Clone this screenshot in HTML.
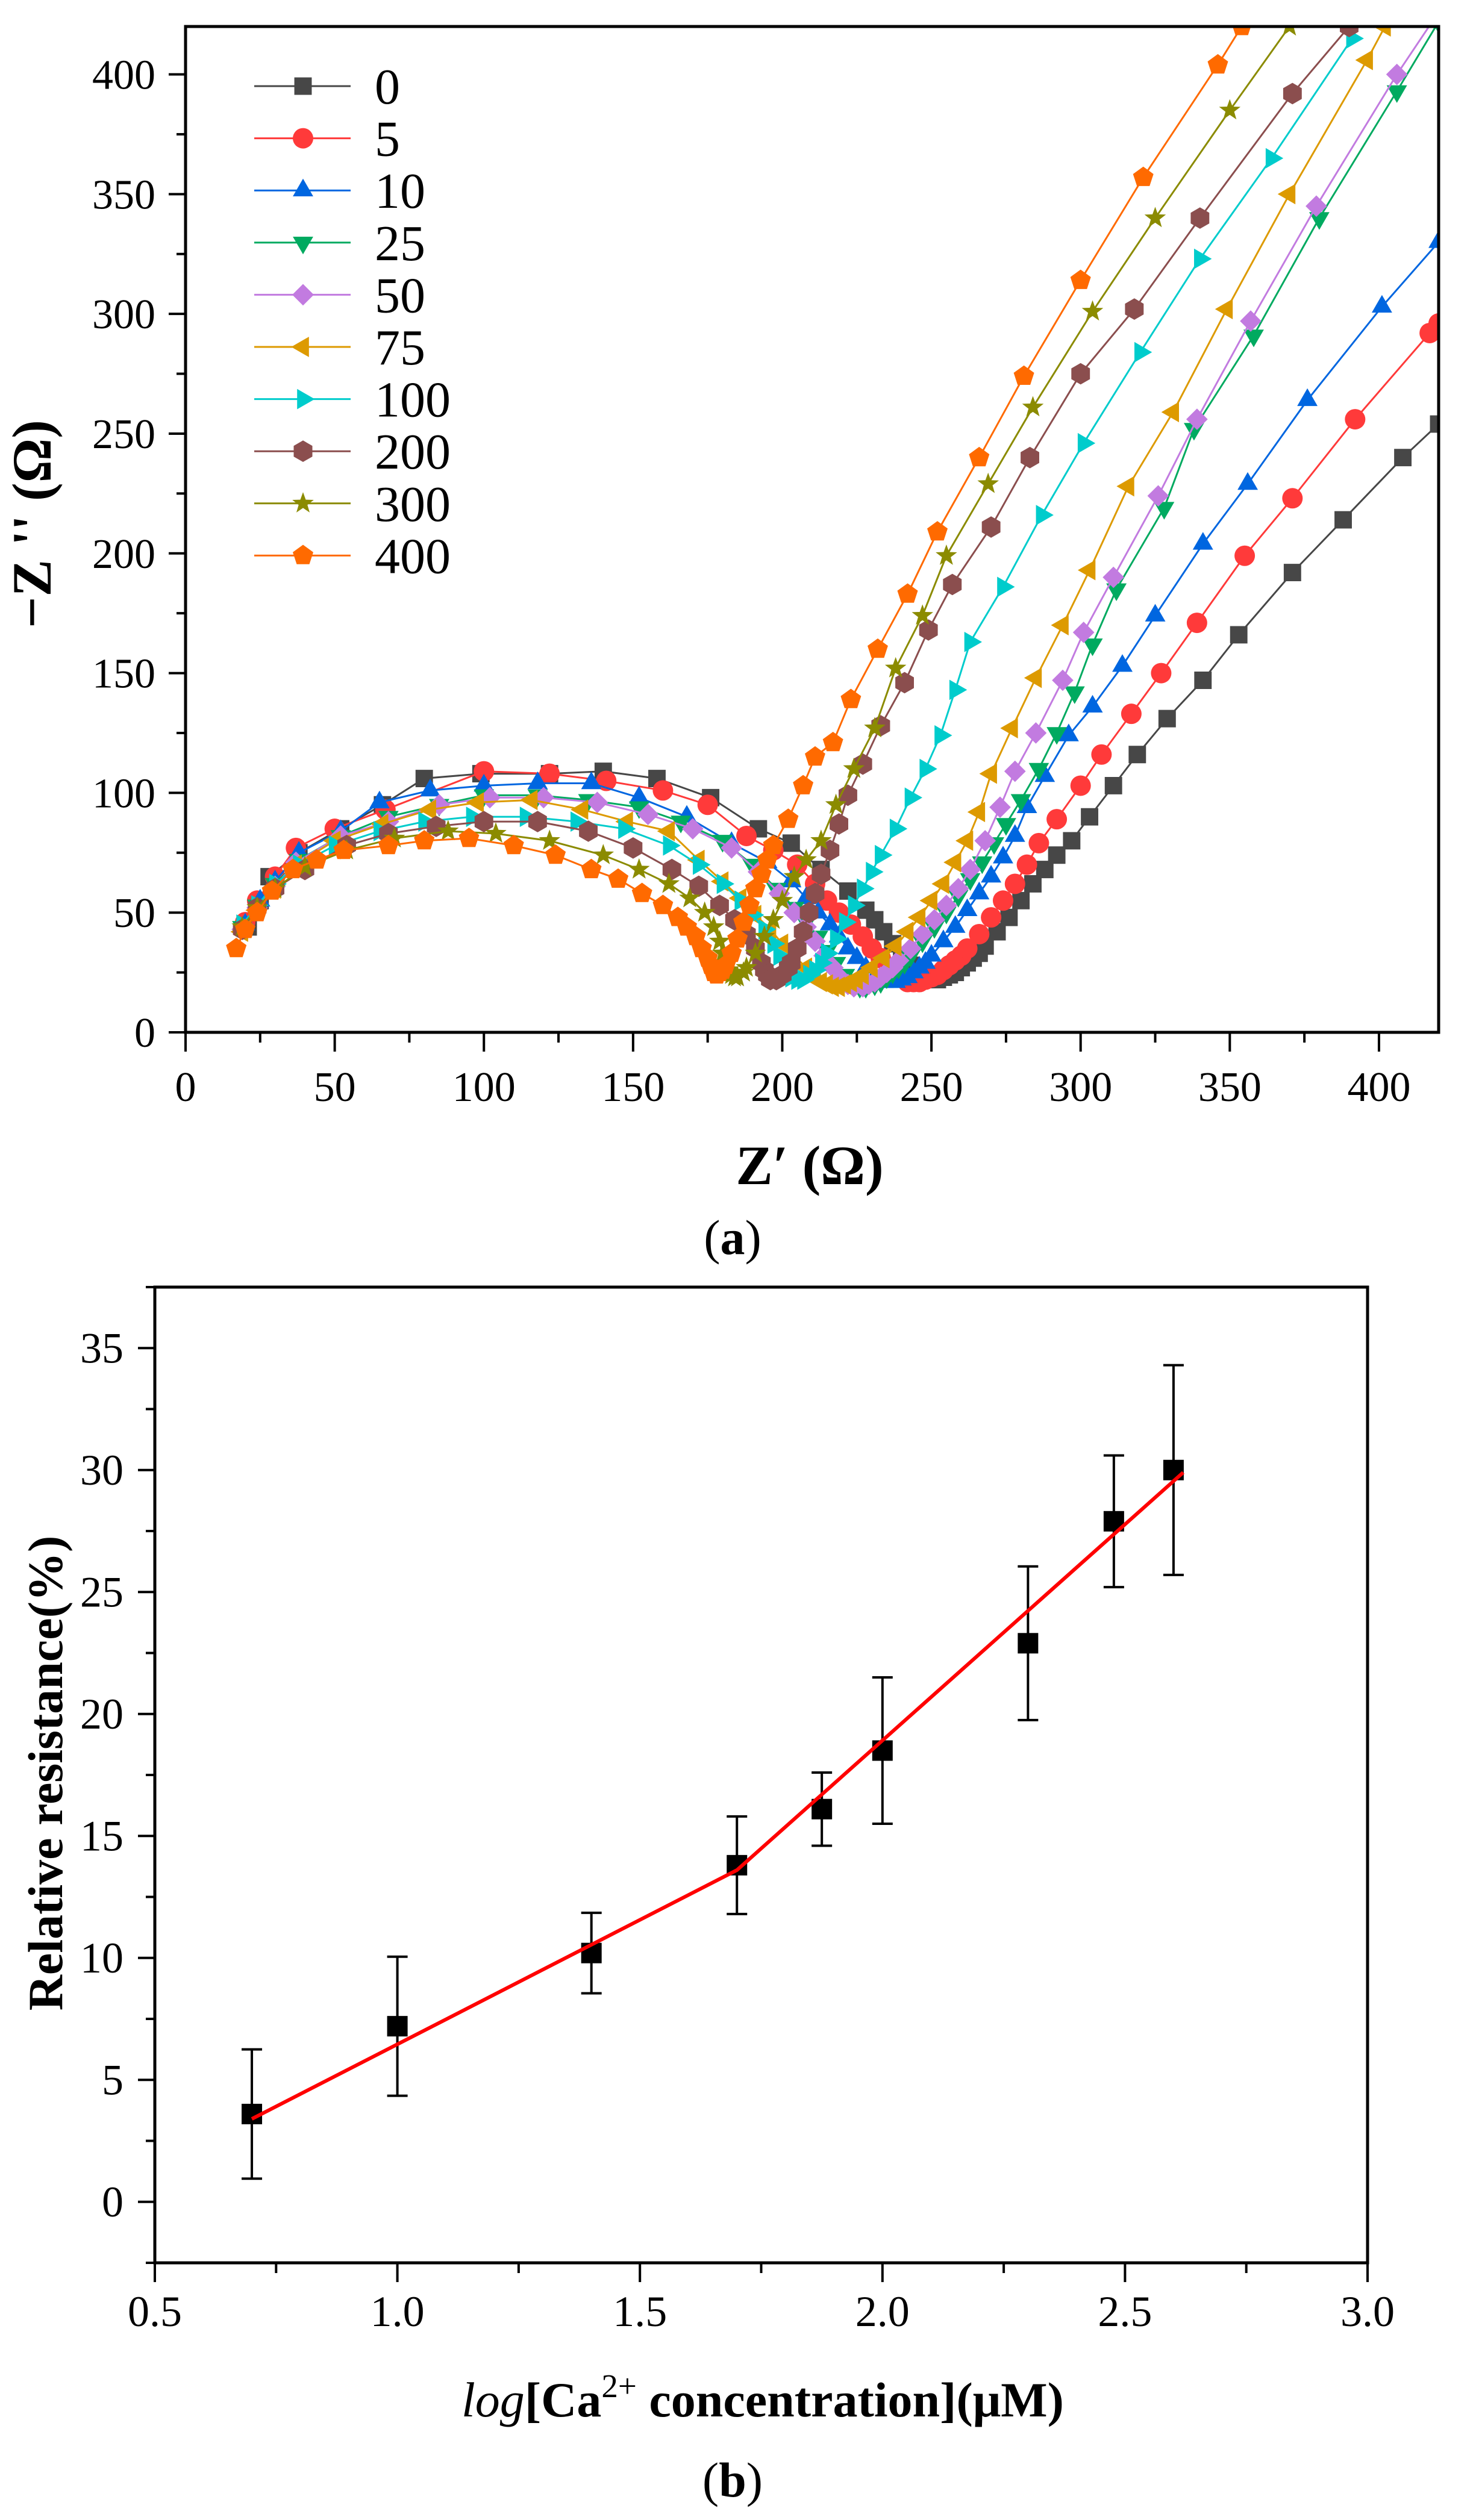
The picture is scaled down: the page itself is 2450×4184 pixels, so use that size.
<!DOCTYPE html>
<html><head><meta charset="utf-8"><style>
html,body{margin:0;padding:0;background:#fff}
svg{display:block}
text{font-family:"Liberation Serif",serif;fill:#000}
</style></head><body>
<svg id="fig" width="2450" height="4184" viewBox="0 0 2450 4184" xmlns="http://www.w3.org/2000/svg" font-family="Liberation Serif, serif">
<g id="chartA"></g>
<g id="chartB"></g>
<text x="1216" y="2082" text-anchor="middle" font-size="82" font-family="Liberation Serif, serif">(<tspan font-weight="bold">a</tspan>)</text>
<text x="1216" y="4145" text-anchor="middle" font-size="82" font-family="Liberation Serif, serif">(<tspan font-weight="bold">b</tspan>)</text>
</svg>
<script>
// ---------- Chart A data ----------
const seriesNames = ["0","5","10","25","50","75","100","200","300","400"];
const seriesColors = ["#474747","#ff3a3a","#0066e0","#00aa60","#c27be0","#dd9a00","#00cccc","#8b4e4e","#8b8b00","#ff6a00"];
const seriesMarkers = ["square","circle","tri-up","tri-down","diamond","tri-left","tri-right","hexagon","star","pentagon"];
const s0 = [[21,44],[25,55],[28,65],[38,75],[52,85],[66,95],[80,106],[99,108],[122,108],[140,109],[158,106],[176,98],[192,85],[203,79],[213,68],[222,59],[228,51],[231,47],[234,42],[237,37],[240,32],[243,28],[245,25],[248,22],[250,22],[252,22],[254,23],[256,24],[258,25],[260,27],[262,29],[264,31],[266,33],[268,36],[272,42],[276,48],[280,55],[284,62],[288,68],[292,74],[297,80],[303,90],[311,103],[319,116],[329,131],[341,147],[353,166],[371,192],[388,214],[408,240],[420,254]];
const s5 = [[20,46],[24,55],[30,65],[37,77],[50,85],[67,93],[100,109],[122,108],[141,105],[160,101],[175,95],[188,82],[197,76],[205,70],[211,62],[215,55],[219,50],[223,45],[227,40],[230,35],[233,31],[236,27],[239,23],[242,21],[244,21],[246,21],[248,22],[250,23],[252,24],[254,26],[256,28],[258,30],[260,32],[262,35],[266,41],[270,48],[274,55],[278,62],[282,70],[286,79],[292,89],[300,103],[307,116],[317,133],[327,150],[339,171],[355,199],[371,223],[392,256],[417,292],[420,296]];
const s10 = [[20,45],[25,55],[30,63],[38,75],[52,84],[65,96],[82,101],[100,103],[118,104],[136,104],[152,98],[168,90],[183,79],[195,71],[203,63],[208,56],[212,50],[216,45],[219,40],[222,35],[225,31],[228,27],[231,23],[234,21],[236,21],[238,21],[240,22],[242,23],[244,25],[246,27],[248,29],[250,32],[254,38],[258,44],[262,51],[266,58],[270,65],[274,73],[278,82],[282,94],[288,107],[296,124],[304,136],[314,153],[325,174],[341,204],[356,229],[376,264],[401,303],[420,330]];
const s25 = [[19,44],[24,53],[30,62],[38,72],[52,82],[68,90],[85,95],[100,99],[118,99],[135,97],[152,94],[166,88],[180,80],[190,70],[198,60],[204,52],[208,46],[212,40],[215,34],[218,29],[221,24],[224,20],[226,19],[228,19],[231,20],[233,21],[235,23],[237,25],[239,27],[241,29],[243,32],[247,38],[251,44],[255,50],[259,57],[263,64],[267,71],[271,79],[275,87],[280,97],[286,110],[292,125],[298,142],[304,162],[312,185],[328,219],[338,252],[358,291],[380,340],[406,393],[420,422]];
const s50 = [[19,43],[24,52],[30,61],[37,71],[52,82],[68,88],[85,95],[102,98],[120,98],[138,96],[155,91],[170,85],[183,77],[192,67],[199,58],[204,50],[208,44],[211,38],[214,32],[217,27],[220,22],[222,20],[224,19],[227,19],[229,20],[231,21],[233,23],[235,25],[237,27],[239,30],[243,35],[247,41],[251,47],[255,53],[259,60],[263,68],[268,80],[273,94],[278,109],[285,125],[294,147],[301,167],[311,190],[326,224],[339,256],[357,297],[379,345],[406,400],[420,426]];
const s75 = [[19,42],[24,51],[30,60],[37,70],[50,80],[66,87],[82,93],[98,96],[116,97],[133,93],[148,88],[162,84],[172,72],[180,63],[186,56],[191,49],[196,43],[200,37],[204,32],[208,27],[211,23],[213,21],[215,20],[217,19],[219,19],[221,20],[223,21],[225,22],[227,24],[230,27],[234,31],[238,36],[242,42],[246,48],[250,55],[254,62],[258,71],[262,80],[266,92],[270,108],[277,127],[285,148],[294,170],[303,193],[316,228],[331,259],[349,302],[370,350],[396,406],[402,420]];
const s100 = [[19,45],[24,53],[30,62],[38,70],[50,78],[65,84],[80,88],[96,90],[114,90],[131,88],[147,85],[162,78],[172,70],[180,62],[186,55],[190,49],[194,43],[197,37],[199,32],[201,27],[202,25],[203,23],[205,22],[207,22],[209,24],[211,26],[213,29],[215,33],[218,39],[221,46],[224,53],[227,60],[230,67],[233,74],[238,85],[243,98],[248,110],[253,124],[258,143],[263,163],[274,186],[287,216],[301,246],[320,284],[340,323],[364,365],[391,415]];
const s200 = [[19,43],[24,52],[30,60],[40,68],[54,78],[68,83],[84,86],[100,88],[118,88],[135,84],[150,77],[163,68],[172,61],[179,53],[184,47],[188,41],[191,35],[193,29],[194,26],[195,24],[196,22],[198,22],[200,24],[202,27],[203,29],[205,35],[207,42],[209,50],[211,58],[213,66],[216,76],[219,87],[222,99],[227,112],[233,128],[241,146],[249,168],[257,187],[270,211],[283,240],[300,275],[318,302],[340,340],[371,392],[390,420]];
const s300 = [[19,44],[24,52],[30,60],[40,69],[54,76],[70,81],[88,84],[104,83],[122,80],[140,74],[152,68],[162,62],[169,56],[174,50],[177,44],[179,38],[180,33],[181,28],[182,26],[183,24],[184,23],[185,23],[187,25],[188,27],[191,33],[194,40],[197,47],[200,55],[204,65],[208,72],[213,80],[218,95],[224,110],[231,127],[238,152],[247,174],[255,199],[269,229],[284,261],[304,301],[325,340],[350,385],[370,420]];
const s400 = [[17,35],[20,43],[24,50],[29,59],[36,68],[44,72],[53,76],[68,78],[80,80],[95,81],[110,78],[124,74],[136,68],[145,64],[153,58],[160,53],[165,48],[168,44],[171,40],[173,35],[175,31],[176,28],[177,25],[178,24],[179,25],[180,26],[181,28],[183,33],[185,39],[187,46],[189,53],[191,60],[193,66],[195,72],[197,78],[202,89],[207,103],[211,115],[217,121],[223,139],[232,160],[242,183],[252,209],[266,240],[281,274],[300,314],[321,357],[346,404],[354,420]];
const seriesData = [s0,s5,s10,s25,s50,s75,s100,s200,s300,s400];
const xTicksA = [0,50,100,150,200,250,300,350,400];
const yTicksA = [0,50,100,150,200,250,300,350,400];

// ---------- Chart B data ----------
const logConc = [0.7,1.0,1.4,1.7,1.875,2.0,2.3,2.477,2.6];
const relRes = [3.6,7.2,10.2,13.8,16.1,18.5,22.9,27.9,30.0];
const relErr = [2.65,2.85,1.65,2.0,1.5,3.0,3.15,2.7,4.3];
const fitX = [0.7,1.7,2.62];
const fitY = [3.4,13.6,29.9];
const xTicksB = ["0.5","1.0","1.5","2.0","2.5","3.0"];
const yTicksB = ["0","5","10","15","20","25","30","35"];

const NS="http://www.w3.org/2000/svg";
const SERIF="Liberation Serif, serif";
function mk(tag,attrs,parent){const e=document.createElementNS(NS,tag);for(const k in attrs)e.setAttribute(k,attrs[k]);if(tag==='text')e.setAttribute('font-family',SERIF);parent.appendChild(e);return e;}

// ---------- Chart A ----------
const A=document.getElementById('chartA');
const aL=308,aR=2388,aT=44,aB=1714;
const axA=v=>aL+(v-0)*(aR-aL)/420;
const ayA=v=>aB-(v-0)*(aB-aT)/420;
const clip=mk('clipPath',{id:'clipA'},A);
mk('rect',{x:aL,y:aT,width:aR-aL,height:aB-aT},clip);

function markerPath(type,cx,cy,r){
  if(type==='square'){return `M${cx-r*0.85},${cy-r*0.85}h${r*1.7}v${r*1.7}h${-r*1.7}Z`;}
  if(type==='circle'){return `M${cx-r},${cy}a${r},${r} 0 1,0 ${2*r},0a${r},${r} 0 1,0 ${-2*r},0Z`;}
  let angs=[],rad=[];
  if(type==='tri-up'){angs=[-90,30,150];}
  if(type==='tri-down'){angs=[90,210,330];}
  if(type==='tri-left'){angs=[180,300,60];}
  if(type==='tri-right'){angs=[0,120,240];}
  if(type==='diamond'){angs=[-90,0,90,180];}
  if(type==='hexagon'){angs=[-90,-30,30,90,150,210];}
  if(type==='pentagon'){angs=[-90,-18,54,126,198];}
  if(type==='star'){for(let i=0;i<10;i++){angs.push(-90+i*36);rad.push(i%2?0.45:1.1);}}
  let d='';
  angs.forEach((a,i)=>{const rr=r*(rad.length?rad[i]:(type.startsWith('tri')?1.15:1.05));const x=cx+rr*Math.cos(a*Math.PI/180),y=cy+rr*Math.sin(a*Math.PI/180);d+=(i?'L':'M')+x.toFixed(1)+','+y.toFixed(1);});
  return d+'Z';
}

const plotA=mk('g',{'clip-path':'url(#clipA)'},A);


seriesData.forEach((data,si)=>{
  const g=mk('g',{},plotA);
  
  
  const d=data.map((p,i)=>(i?'L':'M')+axA(p[0]).toFixed(1)+','+ayA(p[1]).toFixed(1)).join('');
  mk('path',{d:d,fill:'none',stroke:seriesColors[si],'stroke-width':3},g);
  data.forEach(p=>{
    const m=mk('path',{d:markerPath(seriesMarkers[si],axA(p[0]),ayA(p[1]),17),fill:seriesColors[si]},g);
    
    
  });
});
const frA=mk('rect',{x:aL,y:aT,width:aR-aL,height:aB-aT,fill:'none',stroke:'#000','stroke-width':5},A);


for(let v=0;v<=420;v+=25){
  const maj=v%50===0;
  mk('line',{x1:axA(v),x2:axA(v),y1:aB,y2:aB+(maj?32:17),stroke:'#000','stroke-width':4},A);
  mk('line',{x1:aL,x2:aL-(maj?28:15),y1:ayA(v),y2:ayA(v),stroke:'#000','stroke-width':4},A);
}
xTicksA.forEach(v=>{const t=mk('text',{x:axA(v),y:1828,'text-anchor':'middle','font-size':70},A);t.textContent=v;

});
yTicksA.forEach(v=>{const t=mk('text',{x:258,y:ayA(v)+24,'text-anchor':'end','font-size':70},A);t.textContent=v;

});
const xtA=mk('text',{x:1344,y:1966,'text-anchor':'middle','font-size':92,'font-weight':'bold'},A);
xtA.textContent='Z\u2032  (\u03A9)';


const ytA=mk('text',{x:0,y:0,'text-anchor':'middle','font-size':92,'font-weight':'bold',transform:'translate(84,870) rotate(-90)'},A);
ytA.textContent='\u2212Z \'\' (\u03A9)';


const lg=mk('g',{},A);


seriesNames.forEach((n,i)=>{
  const y=143+i*86.6;
  const e=mk('g',{},lg);
  
  
  mk('line',{x1:422,x2:582,y1:y,y2:y,stroke:seriesColors[i],'stroke-width':3},e);
  mk('path',{d:markerPath(seriesMarkers[i],503,y,17),fill:seriesColors[i]},e);
  const t=mk('text',{x:622,y:y+29,'font-size':84},e);t.textContent=n;
});

// ---------- Chart B ----------
const B=document.getElementById('chartB');
const bL=257,bR=2270,bT=2137,bB=3757;
const axB=v=>bL+(v-0.5)*(bR-bL)/2.5;
const ayB=v=>bB-(v+2.5)*(bB-bT)/40;
const frB=mk('rect',{x:bL,y:bT,width:bR-bL,height:bB-bT,fill:'none',stroke:'#000','stroke-width':5},B);


for(let i=0;i<=10;i++){const v=0.5+i*0.25;const maj=i%2===0;
  mk('line',{x1:axB(v),x2:axB(v),y1:bB,y2:bB+(maj?32:17),stroke:'#000','stroke-width':4},B);}
for(let i=-1;i<=15;i++){const v=i*2.5;const maj=i%2===0;
  mk('line',{x1:bL,x2:bL-(maj?28:15),y1:ayB(v),y2:ayB(v),stroke:'#000','stroke-width':4},B);}
xTicksB.forEach(s=>{const t=mk('text',{x:axB(parseFloat(s)),y:3862,'text-anchor':'middle','font-size':72},B);t.textContent=s;

});
yTicksB.forEach(s=>{const t=mk('text',{x:205,y:ayB(parseFloat(s))+24,'text-anchor':'end','font-size':72},B);t.textContent=s;

});
logConc.forEach((x,i)=>{
  const g=mk('g',{},B);
  
  
  const cx=axB(x),yt=ayB(relRes[i]+relErr[i]),yb=ayB(relRes[i]-relErr[i]);
  mk('line',{x1:cx,x2:cx,y1:yt,y2:yb,stroke:'#000','stroke-width':4},g);
  mk('line',{x1:cx-17,x2:cx+17,y1:yt,y2:yt,stroke:'#000','stroke-width':4},g);
  mk('line',{x1:cx-17,x2:cx+17,y1:yb,y2:yb,stroke:'#000','stroke-width':4},g);
  mk('rect',{x:cx-17,y:ayB(relRes[i])-17,width:34,height:34,fill:'#000'},g);
});
const fit=mk('path',{d:fitX.map((x,i)=>(i?'L':'M')+axB(x)+','+ayB(fitY[i])).join(''),fill:'none',stroke:'#ff0000','stroke-width':6},B);


const xtB=mk('text',{x:1266,y:4012,'text-anchor':'middle','font-size':82,'font-weight':'bold'},B);
xtB.innerHTML='<tspan font-style="italic" font-weight="normal">log</tspan>[Ca<tspan font-size="55" dy="-32" font-weight="normal">2+</tspan><tspan dy="32"> concentration</tspan>](\u03BCM)';


const ytB=mk('text',{x:0,y:0,'text-anchor':'middle','font-size':82,'font-weight':'bold',transform:'translate(103,2944) rotate(-90)'},B);
ytB.textContent='Relative resistance(%)';


</script>
</body></html>
